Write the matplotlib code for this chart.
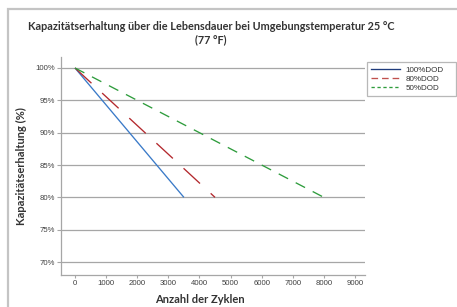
import matplotlib
matplotlib.use("Agg")
import matplotlib.pyplot as plt
from matplotlib.lines import Line2D
from matplotlib.patches import Rectangle
import numpy as np

# cycles vs. remaining capacity (%) for each depth of discharge
cycles_100 = [0, 3500]
cap_100 = [100, 80]
cycles_80 = [0, 4500]
cap_80 = [100, 80]
cycles_50 = [0, 8000]
cap_50 = [100, 80]

series_labels = ["100%DOD", "80%DOD", "50%DOD"]
x_ticks = [0, 1000, 2000, 3000, 4000, 5000, 6000, 7000, 8000, 9000]
y_ticks = [70, 75, 80, 85, 90, 95, 100]

W, H = 457, 307
fig = plt.figure(figsize=(W / 100, H / 100), dpi=100)

# light grey frame round the whole chart (runs off right/bottom edge)
fig.patches.append(Rectangle((8 / W, -0.2), 1.2, 1 - 9 / H + 0.2, transform=fig.transFigure,
                             fill=False, edgecolor="#c4c4c4", linewidth=1.6))

ax = fig.add_axes([61 / W, 1 - 275 / H, (365 - 61) / W, (275 - 57) / H])

lw = 0.95
ax.plot(cycles_100, cap_100, color="#3a7ac8", linewidth=lw, solid_capstyle="butt")
ax.plot(cycles_80, cap_80, color="#b3282d", linewidth=lw, dashes=(17, 11), dash_capstyle="butt")
ax.plot(cycles_50, cap_50, color="#2e9c3c", linewidth=lw, dashes=(8, 6.5), dash_capstyle="butt")

ax.set_xlim(-450, 9320)
ax.set_ylim(68.0, 101.7)
ax.set_xticks(x_ticks)
ax.set_yticks(y_ticks)
ax.set_yticklabels([f"{v}%" for v in y_ticks])

ax.grid(axis="y", color="#a6a6a6", linewidth=0.9)
ax.set_axisbelow(True)
for s in ["top", "right"]:
    ax.spines[s].set_visible(False)
for s in ["left", "bottom"]:
    ax.spines[s].set_color("#a6a6a6")
    ax.spines[s].set_linewidth(0.9)

tick_font = {"family": "Liberation Sans", "size": 5.6}
ax.tick_params(axis="y", length=3, width=0.8, color="#a6a6a6", pad=1.2, labelcolor="#404040")
ax.tick_params(axis="x", length=2, width=0.8, color="#a6a6a6", pad=1.5, labelcolor="#404040")
for lab in ax.get_xticklabels() + ax.get_yticklabels():
    lab.set_fontfamily(tick_font["family"])
    lab.set_fontsize(tick_font["size"])

ax.set_xlabel("Anzahl der Zyklen", fontfamily="Lato", fontweight="bold", fontsize=8,
              color="#333333")
ax.xaxis.set_label_coords((200 - 61) / 304, -0.085)
ax.set_ylabel("Kapazitätserhaltung (%)", fontfamily="Lato", fontweight="bold", fontsize=8,
              color="#333333")
ax.yaxis.set_label_coords(-(61 - 27) / 304, 0.5)

fig.text(211 / W, 1 - 27 / H, "Kapazitätserhaltung über die Lebensdauer bei Umgebungstemperatur 25 °C",
         ha="center", va="center", fontfamily="Lato", fontweight="bold", fontsize=7.85, color="#333333")
fig.text(211 / W, 1 - 40 / H, "(77 °F)",
         ha="center", va="center", fontfamily="Lato", fontweight="bold", fontsize=7.85, color="#333333")

# legend handles use darker shades like the reference
handles = [
    Line2D([], [], color="#1f3c7c", linewidth=lw),
    Line2D([], [], color="#c0504d", linewidth=lw, dashes=(5, 3)),
    Line2D([], [], color="#2e9c3c", linewidth=lw, dashes=(2.5, 2)),
]
leg = fig.legend(handles, series_labels, loc="upper left",
                 bbox_to_anchor=(367 / W, 1 - 100 / H, (456 - 367) / W, 38 / H), mode="expand",
                 prop={"family": "Liberation Sans", "size": 5.8}, frameon=True, fancybox=False,
                 edgecolor="#a6a6a6", handlelength=3.6, handletextpad=0.7, labelspacing=0.2,
                 borderpad=0.5, borderaxespad=0)
leg.get_frame().set_linewidth(0.9)
for t in leg.get_texts():
    t.set_color("#333333")

fig.savefig("out.png", dpi=100)
